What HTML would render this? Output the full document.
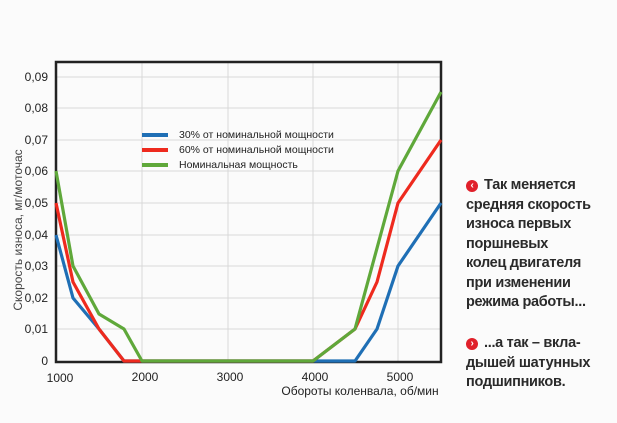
<!DOCTYPE html>
<html><head><meta charset="utf-8"><style>
body{margin:0;width:617px;height:423px;background:#fbfbfb;overflow:hidden;position:relative;font-family:"Liberation Sans","DejaVu Sans",sans-serif}
.side{position:absolute;left:466px;font-weight:bold;font-size:14.5px;line-height:19.5px;color:#2a2a2a;letter-spacing:-0.3px}
.mk{display:inline-block;width:12px;height:12px;border-radius:50%;background:#e0202a;color:#fff;font-size:10px;line-height:12px;text-align:center;margin-right:6px;vertical-align:1px}
</style></head><body>
<svg width="617" height="423" style="position:absolute;left:0;top:0" font-family="Liberation Sans, DejaVu Sans, sans-serif">
<g stroke="#d8d8d8" stroke-width="1">
<line x1="56" y1="77" x2="441" y2="77"/><line x1="56" y1="108" x2="441" y2="108"/><line x1="56" y1="140" x2="441" y2="140"/><line x1="56" y1="171" x2="441" y2="171"/><line x1="56" y1="203" x2="441" y2="203"/><line x1="56" y1="235" x2="441" y2="235"/><line x1="56" y1="266" x2="441" y2="266"/><line x1="56" y1="298" x2="441" y2="298"/><line x1="56" y1="329" x2="441" y2="329"/>
<line x1="142" y1="62" x2="142" y2="362"/><line x1="228" y1="62" x2="228" y2="362"/><line x1="313" y1="62" x2="313" y2="362"/><line x1="398" y1="62" x2="398" y2="362"/>
</g>
<rect x="56" y="62" width="385" height="300" fill="none" stroke="#222" stroke-width="2.5"/>
<g fill="none" stroke-width="3.2" stroke-linejoin="round">
<polyline stroke="#1f6fb5" points="56,235 73,298 99,329 124,361 142,361 355,361 377,329 398,266 441,203"/>
<polyline stroke="#ee2a1e" points="56,203 73,282 99,329 124,361 142,361 313,361 355,329 377,282 398,203 441,140"/>
<polyline stroke="#5fa83a" points="56,171 73,266 99,314 124,329 142,361 313,361 355,329 398,171 441,92"/>
</g>
<g font-size="12" fill="#222" text-anchor="end">
<text x="48" y="81">0,09</text><text x="48" y="112">0,08</text><text x="48" y="144">0,07</text><text x="48" y="175">0,06</text><text x="48" y="207">0,05</text><text x="48" y="239">0,04</text><text x="48" y="270">0,03</text><text x="48" y="302">0,02</text><text x="48" y="333">0,01</text><text x="48" y="365">0</text>
</g>
<g font-size="12" fill="#222" text-anchor="middle">
<text x="60" y="382">1000</text><text x="145" y="381">2000</text><text x="230" y="381">3000</text><text x="315" y="381">4000</text><text x="400" y="381">5000</text>
</g>
<text x="360" y="395" font-size="12" fill="#222" text-anchor="middle">Обороты коленвала, об/мин</text>
<text transform="translate(22,230) rotate(-90)" font-size="12" fill="#444" text-anchor="middle">Скорость износа, мг/моточас</text>
<g stroke-width="4"><line x1="142" y1="135" x2="168" y2="135" stroke="#1f6fb5"/><line x1="142" y1="150" x2="168" y2="150" stroke="#ee2a1e"/><line x1="142" y1="165" x2="168" y2="165" stroke="#5fa83a"/></g>
<g font-size="10.5" fill="#222"><text x="179" y="138">30% от номинальной мощности</text><text x="179" y="153">60% от номинальной мощности</text><text x="179" y="168">Номинальная мощность</text></g>
</svg>
<div class="side" style="top:176px"><span class="mk">‹</span>Так меняется<br>средняя скорость<br>износа первых<br>поршневых<br>колец двигателя<br>при изменении<br>режима работы...</div>
<div class="side" style="top:334px"><span class="mk">›</span>...а так – вкла-<br>дышей шатунных<br>подшипников.</div>
</body></html>
